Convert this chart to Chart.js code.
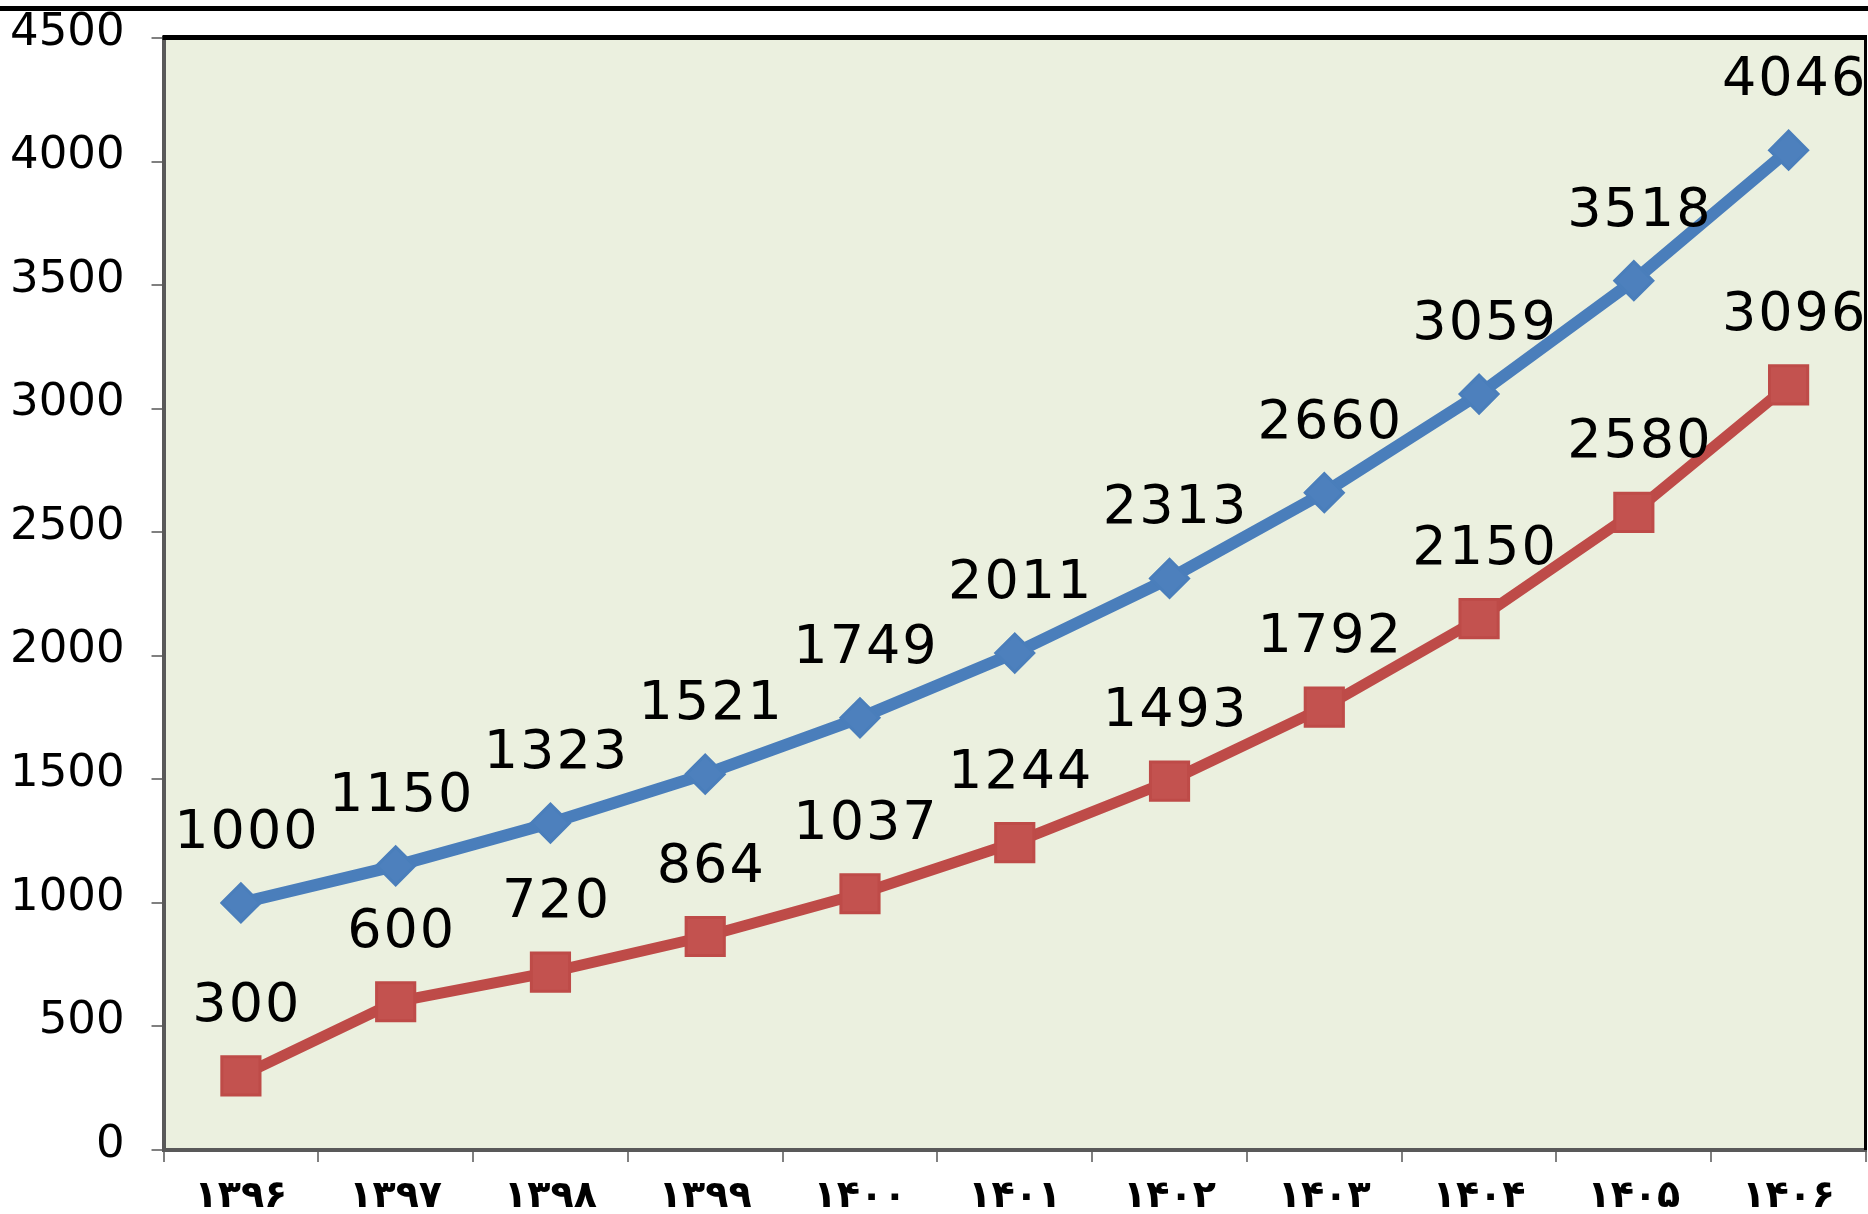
<!DOCTYPE html>
<html>
<head>
<meta charset="utf-8">
<script src="https://cdn.jsdelivr.net/npm/chart.js@4"></script>
<style>
  html, body { margin: 0; padding: 0; background: #fff; }
  #wrap { width: 1868px; height: 1214px; }
</style>
</head>
<body>
<div id="wrap"><canvas id="lineChart"></canvas></div>
<script>
// years (Persian digits) on the x axis
const years = ['۱۳۹۶', '۱۳۹۷', '۱۳۹۸', '۱۳۹۹', '۱۴۰۰', '۱۴۰۱', '۱۴۰۲', '۱۴۰۳', '۱۴۰۴', '۱۴۰۵', '۱۴۰۶'];
const blueValues = [1000, 1150, 1323, 1521, 1749, 2011, 2313, 2660, 3059, 3518, 4046];
const redValues = [300, 600, 720, 864, 1037, 1244, 1493, 1792, 2150, 2580, 3096];
const yMin = 0;
const yMax = 4500;
const yStep = 500;

/**
 * Plot background, frame and value labels
 */
const plotDecor = {
    id: 'plotDecor',
    beforeDraw(chart) {
        const { ctx, chartArea: a } = chart;
        ctx.save();
        ctx.fillStyle = '#EBF0DF';
        ctx.fillRect(a.left, a.top, a.right - a.left, a.bottom - a.top);
        ctx.restore();
    },
    afterDatasetsDraw(chart) {
        const ctx = chart.ctx;
        ctx.save();
        ctx.font = '54px "DejaVu Sans"';
        ctx.letterSpacing = '2px';
        ctx.fillStyle = '#000';
        ctx.textAlign = 'center';
        ctx.textBaseline = 'middle';
        chart.data.datasets.forEach((ds, i) => {
            chart.getDatasetMeta(i).data.forEach((pt, j) => {
                ctx.fillText(String(ds.data[j]), pt.x + 6, pt.y - 69);
            });
        });
        ctx.restore();
        // x labels (drawn after datasets) get wider digit spacing
        ctx.letterSpacing = '11px';
    },
    afterDraw(chart) {
        const { ctx, chartArea: a, width } = chart;
        ctx.letterSpacing = '0px';
        ctx.save();
        ctx.fillStyle = '#000';
        // top rule across the figure
        ctx.fillRect(0, 6, width, 5);
        // top and right edges of the plot frame
        ctx.fillRect(a.left - 1, a.top - 3, a.right - a.left + 2, 5);
        ctx.fillRect(a.right - 2, a.top - 3, 3, a.bottom - a.top + 3);
        ctx.restore();
    }
};

document.addEventListener('DOMContentLoaded', function() {
    const ctx = document.getElementById('lineChart');

    new Chart(ctx, {
        type: 'line',
        data: {
            labels: years,
            datasets: [{
                data: blueValues,
                borderColor: '#4A7EBB',
                backgroundColor: '#4A7EBB',
                borderWidth: 12,
                pointStyle: 'rectRot',
                pointRadius: 19,
                pointBorderWidth: 3,
                pointBorderColor: '#4A7EBB',
                pointBackgroundColor: '#4D80BD',
                tension: 0
            }, {
                data: redValues,
                borderColor: '#BE4B48',
                backgroundColor: '#BE4B48',
                borderWidth: 11,
                pointStyle: 'rect',
                pointRadius: 27,
                pointBorderWidth: 3,
                pointBorderColor: '#BE4B48',
                pointBackgroundColor: '#C3524F',
                tension: 0
            }]
        },
        options: {
            responsive: true,
            maintainAspectRatio: false,
            animation: false,
            layout: {
                autoPadding: false,
                padding: { left: 10, right: 2, top: 38, bottom: 0 }
            },
            plugins: {
                legend: { display: false },
                tooltip: { enabled: false }
            },
            scales: {
                x: {
                    z: 1,
                    offset: true,
                    afterFit: s => { s.paddingLeft = 0; s.paddingRight = 0; s.height = 64; },
                    grid: {
                        offset: true,
                        drawOnChartArea: false,
                        tickLength: 12,
                        color: '#808080',
                        lineWidth: 2
                    },
                    border: { color: '#595959', width: 4 },
                    ticks: {
                        padding: 12,
                        maxRotation: 0,
                        autoSkip: false,
                        color: '#000',
                        font: { size: 38, weight: 'bold', family: '"DejaVu Sans"' }
                    }
                },
                y: {
                    min: yMin,
                    max: yMax,
                    // chart.js counts the label padding twice; keep it once
                    afterFit: s => { s.paddingTop = 0; s.paddingBottom = 0; s.width -= s.options.ticks.padding; },
                    grid: {
                        drawOnChartArea: false,
                        tickLength: 12,
                        color: '#808080',
                        lineWidth: 2
                    },
                    border: { color: '#595959', width: 4 },
                    ticks: {
                        stepSize: yStep,
                        padding: 27,
                        labelOffset: -5,
                        color: '#000',
                        font: { size: 45, family: '"DejaVu Sans"' },
                        callback: value => String(value)
                    }
                }
            }
        },
        plugins: [plotDecor]
    });
});
</script>
</body>
</html>
